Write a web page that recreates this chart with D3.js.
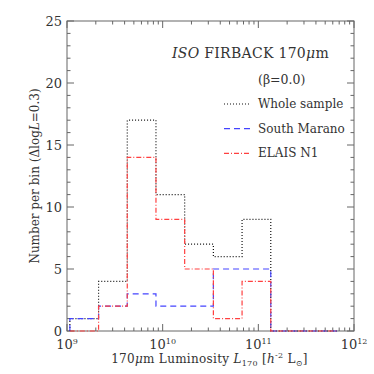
<!DOCTYPE html>
<html>
<head>
<meta charset="utf-8">
<script src="https://cdn.jsdelivr.net/npm/d3@7"></script>
<style>
  body { margin: 0; background: #fff; }
  text { font-family: "DejaVu Serif", serif; fill: #333; }
</style>
</head>
<body>
<div id="chart"></div>
<script>
// bin edges in log10(L) and counts per bin
const binEdges = [9.03, 9.33, 9.63, 9.93, 10.23, 10.53, 10.83, 11.13, 11.83];
const wholeSample = [1, 4, 17, 11, 7, 6, 9, 0];
const southMarano = [1, 2, 3, 2, 2, 5, 5, 0];
const elaisN1 = [0, 2, 14, 9, 5, 1, 4, 0];
const yTicks = [0, 5, 10, 15, 20, 25];
const xDecades = [9, 10, 11, 12];

const W = 374, H = 374;
const plotL = 67, plotR = 354, plotT = 21, plotB = 331;

const svg = d3.select("#chart").append("svg")
  .attr("width", W)
  .attr("height", H);

const x = d3.scaleLinear().domain([9, 12]).range([plotL, plotR]);
const y = d3.scaleLinear().domain([0, 25]).range([plotB, plotT]);

// frame
svg.append("rect")
  .attr("x", plotL).attr("y", plotT)
  .attr("width", plotR - plotL).attr("height", plotB - plotT)
  .attr("fill", "none").attr("stroke", "#666").attr("stroke-width", 1);

// x ticks (log minor ticks), on bottom and top
const axisG = svg.append("g").attr("stroke", "#666").attr("stroke-width", 1);
xDecades.forEach(d => {
  for (let m = 1; m < 10; m++) {
    const v = d + Math.log10(m);
    if (v > 12) break;
    const len = m === 1 ? 7 : 3.5;
    axisG.append("line").attr("x1", x(v)).attr("x2", x(v))
      .attr("y1", plotB).attr("y2", plotB - len);
    axisG.append("line").attr("x1", x(v)).attr("x2", x(v))
      .attr("y1", plotT).attr("y2", plotT + len);
  }
});
// y ticks, minor every 1
d3.range(0, 26).forEach(v => {
  const len = v % 5 === 0 ? 7 : 3.5;
  axisG.append("line").attr("x1", plotL).attr("x2", plotL + len)
    .attr("y1", y(v)).attr("y2", y(v));
  axisG.append("line").attr("x1", plotR).attr("x2", plotR - len)
    .attr("y1", y(v)).attr("y2", y(v));
});

// tick labels
yTicks.forEach(v => {
  svg.append("text")
    .attr("x", plotL - 5).attr("y", y(v) + 1)
    .attr("text-anchor", "end").attr("dominant-baseline", "middle")
    .attr("font-size", "13px")
    .text(v);
});
xDecades.forEach(d => {
  const t = svg.append("text")
    .attr("x", x(d)).attr("y", plotB + 18)
    .attr("text-anchor", "middle")
    .attr("font-size", "13px");
  t.append("tspan").text("10");
  t.append("tspan").attr("dy", -5).attr("font-size", "8px").text(d);
});

// axis titles
const xt = svg.append("text")
  .attr("x", (plotL + plotR) / 2 - 1).attr("y", plotB + 32)
  .attr("text-anchor", "middle").attr("font-size", "12px")
  .attr("letter-spacing", "0.3px");
xt.append("tspan").text("170");
xt.append("tspan").attr("font-style", "italic").text("μ");
xt.append("tspan").text("m Luminosity ");
xt.append("tspan").attr("font-style", "italic").text("L");
xt.append("tspan").attr("dy", 3).attr("font-size", "8px").text("170");
xt.append("tspan").attr("dy", -3).text(" [");
xt.append("tspan").attr("font-style", "italic").text("h");
xt.append("tspan").attr("dy", -5).attr("font-size", "8px").text("-2");
xt.append("tspan").attr("dy", 5).text(" L");
xt.append("tspan").attr("dy", 3).attr("font-size", "8px").text("⊙");
xt.append("tspan").attr("dy", -3).text("]");

const yt = svg.append("text")
  .attr("transform", `translate(39,${(plotT + plotB) / 2}) rotate(-90)`)
  .attr("text-anchor", "middle").attr("font-size", "12px");
yt.append("tspan").text("Number per bin (Δlog");
yt.append("tspan").attr("font-style", "italic").text("L");
yt.append("tspan").text("=0.3)");

// histograms
const line = d3.line()
  .x(d => x(d[0]))
  .y(d => y(d[1]))
  .curve(d3.curveStepAfter);

function steps(counts) {
  const pts = [[binEdges[0], 0]];
  counts.forEach((c, i) => pts.push([binEdges[i], c]));
  pts.push([binEdges[binEdges.length - 1], counts[counts.length - 1]]);
  return pts;
}

const series = [
  { name: "Whole sample", data: wholeSample, color: "#111", dash: "1,2" },
  { name: "South Marano", data: southMarano, color: "#4444ff", dash: "6,4" },
  { name: "ELAIS N1", data: elaisN1, color: "#ff4040", dash: "5,2,1,2" }
];

series.forEach(s => {
  svg.append("path")
    .attr("d", line(steps(s.data)))
    .attr("fill", "none")
    .attr("stroke", s.color)
    .attr("stroke-width", 1.2)
    .attr("stroke-dasharray", s.dash);
});

// title and legend
const title = svg.append("text")
  .attr("x", 172).attr("y", 58).attr("font-size", "14px")
  .attr("letter-spacing", "0.3px");
title.append("tspan").attr("font-style", "italic").text("ISO");
title.append("tspan").text(" FIRBACK 170");
title.append("tspan").attr("font-style", "italic").text("μ");
title.append("tspan").text("m");

svg.append("text")
  .attr("x", 258).attr("y", 84).attr("font-size", "12.5px")
  .text("(β=0.0)");

series.forEach((s, i) => {
  const ly = 104 + i * 24.7;
  svg.append("line")
    .attr("x1", 224).attr("x2", 250)
    .attr("y1", ly).attr("y2", ly)
    .attr("stroke", s.color).attr("stroke-width", 1.2)
    .attr("stroke-dasharray", s.dash);
  svg.append("text")
    .attr("x", 258).attr("y", ly + 4)
    .attr("font-size", "12px")
    .text(s.name);
});
</script>
</body>
</html>
